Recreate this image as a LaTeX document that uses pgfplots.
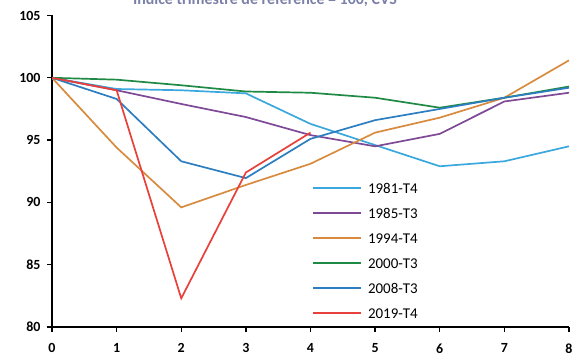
\documentclass[border=0pt]{standalone}
\usepackage{pgfplots}
\pgfplotsset{compat=1.18}
\usepackage{fontspec}
\setmainfont{Carlito}
\definecolor{c81}{HTML}{3AA8DE}
\definecolor{c85}{HTML}{7E4A96}
\definecolor{c94}{HTML}{D88B3E}
\definecolor{c00}{HTML}{1F8A45}
\definecolor{c08}{HTML}{2C7EC0}
\definecolor{c19}{HTML}{E8403A}
\definecolor{ctitle}{HTML}{7A80A8}
\begin{document}
\begin{tikzpicture}
\begin{axis}[
  at={(52bp,35bp)}, anchor=south west,
  width=517bp, height=311.5bp, scale only axis,
  xmin=0, xmax=8, ymin=80, ymax=105,
  axis x line*=bottom, axis y line*=left,
  axis line style={black, line width=1.3pt, -},
  xtick={0,...,8}, ytick={80,85,...,105},
  tick align=outside, major tick length=5bp,
  tick style={black, line width=1.3pt},
  /pgf/number format/assume math mode=true,
  ticklabel style={font=\bfseries\fontsize{14}{14}\selectfont},
  xticklabel style={yshift=-8bp},
  yticklabel style={xshift=-3bp},
  legend style={draw=none, fill=none, inner sep=0pt, outer sep=0pt,
    at={(rel axis cs:0.503,0.464)}, anchor=north west,
    font=\fontsize{15}{15}\selectfont,
    nodes={inner xsep=6bp, inner ysep=0pt, text height=11bp, text depth=0pt, anchor=west},
    row sep=14bp},
  legend cell align=left,
  legend image code/.code={\draw[#1, line width=2bp] (0bp,0bp) -- (48bp,0bp);},
]
\addplot[c81, line width=1.7bp] coordinates {(0,100)(1,99.1)(2,99.0)(3,98.75)(4,96.3)(5,94.6)(6,92.9)(7,93.3)(8,94.5)};
\addlegendentry{1981-T4}
\addplot[c85, line width=1.7bp] coordinates {(0,100)(1,99.0)(2,97.9)(3,96.85)(4,95.4)(5,94.5)(6,95.5)(7,98.1)(8,98.8)};
\addlegendentry{1985-T3}
\addplot[c94, line width=1.7bp] coordinates {(0,100)(1,94.4)(2,89.6)(3,91.4)(4,93.1)(5,95.6)(6,96.8)(7,98.4)(8,101.4)};
\addlegendentry{1994-T4}
\addplot[c00, line width=1.7bp] coordinates {(0,100)(1,99.85)(2,99.4)(3,98.9)(4,98.8)(5,98.4)(6,97.6)(7,98.4)(8,99.3)};
\addlegendentry{2000-T3}
\addplot[c08, line width=1.7bp] coordinates {(0,100)(1,98.3)(2,93.3)(3,91.95)(4,95.1)(5,96.6)(6,97.5)(7,98.4)(8,99.2)};
\addlegendentry{2008-T3}
\addplot[c19, line width=1.7bp] coordinates {(0,100)(1,99.0)(2,82.3)(3,92.4)(4,95.6)};
\addlegendentry{2019-T4}
\end{axis}
\node[anchor=base, text=ctitle, font=\bfseries\fontsize{16}{16}\selectfont, inner sep=0pt] at (265bp,357.5bp) {Indice trimestre de référence = 100, CVS};
\pgfresetboundingbox
\path[use as bounding box] (0bp,0bp) rectangle (582bp,362bp);
\end{tikzpicture}
\end{document}
